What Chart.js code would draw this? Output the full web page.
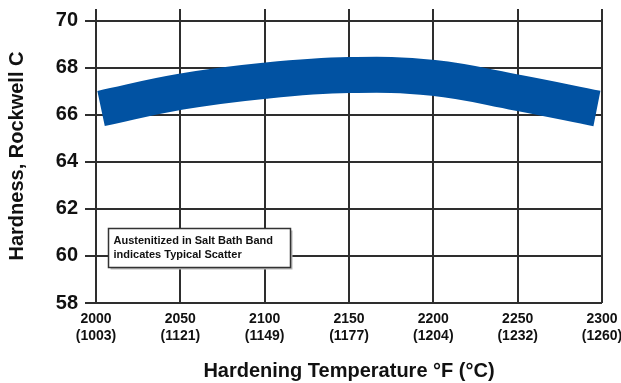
<!DOCTYPE html>
<html>
<head>
<meta charset="utf-8">
<script src="https://cdn.jsdelivr.net/npm/chart.js@4/dist/chart.umd.min.js"></script>
<style>
  html, body { margin: 0; padding: 0; background: #fff; }
  canvas { display: block; }
</style>
</head>
<body>
<canvas id="c" width="621" height="383"></canvas>
<script>
// Hardening temperature ticks (°F) and their Celsius equivalents as printed
const tempF = [2000, 2050, 2100, 2150, 2200, 2250, 2300];
const tempC = [1003, 1121, 1149, 1177, 1204, 1232, 1260];
const hardnessTicks = [58, 60, 62, 64, 66, 68, 70];

// Centre line of the typical-scatter band (Rockwell C)
const bandTempF = [2003, 2050, 2100, 2150, 2200, 2250, 2297];
const bandHardness = [66.27, 66.98, 67.45, 67.69, 67.57, 66.94, 66.27];

const noteLines = ['Austenitized in Salt Bath Band', 'indicates Typical Scatter'];

const FONT = '"Liberation Sans", Arial, Helvetica, sans-serif';
const GRID = '#2e2e2e';
const INK = '#111';
const BAND = '#0152a2';

// Boxed caption in the lower-left of the plot
const notePlugin = {
  id: 'scatterNote',
  afterDraw(chart) {
    const { ctx, scales: { x, y } } = chart;
    const l = Math.round(x.getPixelForValue(2007)) + 0.5;
    const r = Math.round(x.getPixelForValue(2115)) + 0.5;
    const t = Math.round(y.getPixelForValue(61.2)) + 0.5;
    const b = Math.round(y.getPixelForValue(59.55)) + 0.5;
    const w = r - l, h = b - t;
    ctx.save();
    ctx.fillStyle = '#b8b8b8';
    ctx.fillRect(l + 2, t + 2, w, h);
    ctx.fillStyle = '#fff';
    ctx.fillRect(l, t, w, h);
    ctx.lineWidth = 1.5;
    ctx.strokeStyle = '#333';
    ctx.strokeRect(l, t, w, h);
    ctx.fillStyle = INK;
    ctx.font = 'bold 11px ' + FONT;
    ctx.textBaseline = 'middle';
    ctx.textAlign = 'left';
    noteLines.forEach((s, i) => ctx.fillText(s, l + 5, t + 12 + i * 14));
    ctx.restore();
  }
};

new Chart(document.getElementById('c'), {
  type: 'line',
  data: {
    datasets: [{
      data: bandTempF.map((t, i) => ({ x: t, y: bandHardness[i] })),
      borderColor: BAND,
      backgroundColor: BAND,
      borderWidth: 36,
      borderCapStyle: 'butt',
      borderJoinStyle: 'round',
      pointRadius: 0,
      pointHoverRadius: 0,
      tension: 0.4,
      fill: false
    }]
  },
  options: {
    responsive: false,
    devicePixelRatio: 1,
    animation: false,
    events: [],
    layout: { padding: { top: 9, right: 19, bottom: 0, left: 0 } },
    plugins: { legend: { display: false }, tooltip: { enabled: false } },
    scales: {
      x: {
        type: 'linear',
        min: tempF[0],
        max: tempF[tempF.length - 1],
        afterBuildTicks: s => { s.ticks = tempF.map(v => ({ value: v })); },
        ticks: {
          autoSkip: false,
          maxRotation: 0,
          padding: 8,
          color: INK,
          font: { family: FONT, size: 14, weight: 'bold', lineHeight: 1.2 },
          callback: v => {
            const i = tempF.indexOf(v);
            return i < 0 ? '' : [String(v), '(' + tempC[i] + ')'];
          }
        },
        grid: { color: GRID, lineWidth: 2, drawTicks: false, tickLength: 0 },
        border: { display: false },
        title: {
          display: true,
          text: 'Hardening Temperature °F (°C)',
          color: INK,
          font: { family: FONT, size: 20, weight: 'bold', lineHeight: 1.2 },
          padding: { top: 0, bottom: 0 }
        },
        afterFit: s => { s.height = 80; s.paddingLeft = 0; s.paddingRight = 0; }
      },
      y: {
        type: 'linear',
        min: 58,
        max: 70.5,
        afterBuildTicks: s => { s.ticks = hardnessTicks.map(v => ({ value: v })); },
        ticks: {
          padding: 7,
          color: INK,
          font: { family: FONT, size: 20, weight: 'bold' }
        },
        grid: { color: GRID, lineWidth: 2, drawTicks: true, tickLength: 11 },
        border: { display: false },
        title: {
          display: true,
          text: 'Hardness, Rockwell C',
          color: INK,
          font: { family: FONT, size: 20, weight: 'bold', lineHeight: 1.2 },
          padding: { top: 5, bottom: 0 }
        },
        afterFit: s => { s.width = 96; s.paddingTop = 0; s.paddingBottom = 0; }
      }
    }
  },
  plugins: [notePlugin]
});
</script>
</body>
</html>
